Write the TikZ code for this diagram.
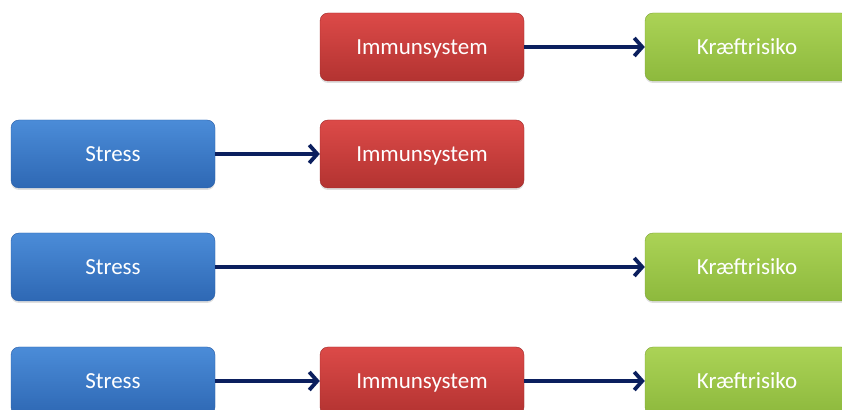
\documentclass[tikz,border=0pt]{standalone}
\usepackage{fontspec}
\setmainfont{Carlito}
\usetikzlibrary{arrows.meta,shadows}
\definecolor{navy}{HTML}{0B1F5E}
\definecolor{stressTop}{HTML}{4B8CD8}
\definecolor{stressBot}{HTML}{2E68B4}
\definecolor{stressEdge}{HTML}{2A5FA8}
\definecolor{immunTop}{HTML}{DC4A48}
\definecolor{immunBot}{HTML}{B33331}
\definecolor{immunEdge}{HTML}{9E2A2A}
\definecolor{riskTop}{HTML}{ABD356}
\definecolor{riskBot}{HTML}{8DB93D}
\definecolor{riskEdge}{HTML}{7FA535}
\tikzset{
  x=1pt,y=1pt,
  flowbox/.style={rounded corners=8pt,minimum width=204pt,minimum height=68pt,
    inner sep=0pt,text=white,font=\fontsize{23}{26}\selectfont,
    text height=18pt,text depth=2pt,
    drop shadow={shadow xshift=0pt,shadow yshift=-2pt,opacity=0.25}},
  stressbox/.style={flowbox,draw=stressEdge,top color=stressTop,bottom color=stressBot},
  immunbox/.style={flowbox,draw=immunEdge,top color=immunTop,bottom color=immunBot},
  riskbox/.style={flowbox,draw=riskEdge,top color=riskTop,bottom color=riskBot},
  link/.style={draw=navy,line width=3.8pt,
    -{Straight Barb[length=8pt,width=18pt,line width=3.8pt]}}
}
\begin{document}
\begin{tikzpicture}
\useasboundingbox (0,0) rectangle (842,409);
\clip (0,0) rectangle (842,409);
% row 1
\node[immunbox] (i1) at (422,362) {Immunsystem};
\node[riskbox]  (k1) at (747,362) {Kræftrisiko};
\draw[link] (i1) -- (k1);
% row 2
\node[stressbox] (s2) at (113,255) {Stress};
\node[immunbox]  (i2) at (422,255) {Immunsystem};
\draw[link] (s2) -- (i2);
% row 3
\node[stressbox] (s3) at (113,142) {Stress};
\node[riskbox]   (k3) at (747,142) {Kræftrisiko};
\draw[link] (s3) -- (k3);
% row 4
\node[stressbox] (s4) at (113,28) {Stress};
\node[immunbox]  (i4) at (422,28) {Immunsystem};
\node[riskbox]   (k4) at (747,28) {Kræftrisiko};
\draw[link] (s4) -- (i4);
\draw[link] (i4) -- (k4);
\end{tikzpicture}
\end{document}
